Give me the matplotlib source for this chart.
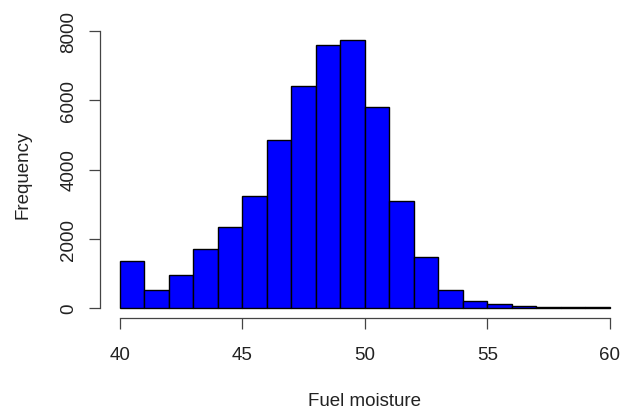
import numpy as np
import matplotlib.pyplot as plt

plt.rcParams['font.family'] = ['Liberation Sans', 'DejaVu Sans']

# histogram of fuel moisture, unit-width bins 40..60
bin_edges = list(range(40, 61))
counts = [1350, 520, 955, 1690, 2340, 3235, 4840, 6405, 7590, 7735,
          5815, 3085, 1470, 520, 205, 105, 40, 20, 10, 8]
x_ticks = [40, 45, 50, 55, 60]
y_ticks = [0, 2000, 4000, 6000, 8000]

fig = plt.figure(figsize=(6.2, 4.1), dpi=100)
ax = fig.add_axes([100 / 620, (410 - 319.4) / 410, 529.6 / 620, 288.6 / 410])

ax.hist(bin_edges[:-1], bins=bin_edges, weights=counts,
        color='#0000ff', edgecolor='black', linewidth=1.0)

ax.set_xlim(39.2, 60.8)
ax.set_ylim(-309, 8043)

for side in ['top', 'right']:
    ax.spines[side].set_visible(False)
ax.spines['left'].set_bounds(0, 8000)
ax.spines['bottom'].set_bounds(40, 60)
for side in ['left', 'bottom']:
    ax.spines[side].set_color('#444444')
    ax.spines[side].set_linewidth(0.9)

ax.set_xticks(x_ticks)
ax.set_yticks(y_ticks)
ax.set_yticklabels([str(v) for v in y_ticks], rotation=90, va='center')
ax.tick_params(axis='both', length=7.7, width=0.9, color='#444444',
               labelsize=13.5, labelcolor='#222222')
ax.tick_params(axis='x', pad=12)
ax.tick_params(axis='y', pad=8.6)

ax.set_xlabel('Fuel moisture', fontsize=13.5, color='#222222', labelpad=21)
ax.set_ylabel('Frequency', fontsize=13.5, color='#222222', labelpad=21)

fig.savefig('out.png', dpi=100)
